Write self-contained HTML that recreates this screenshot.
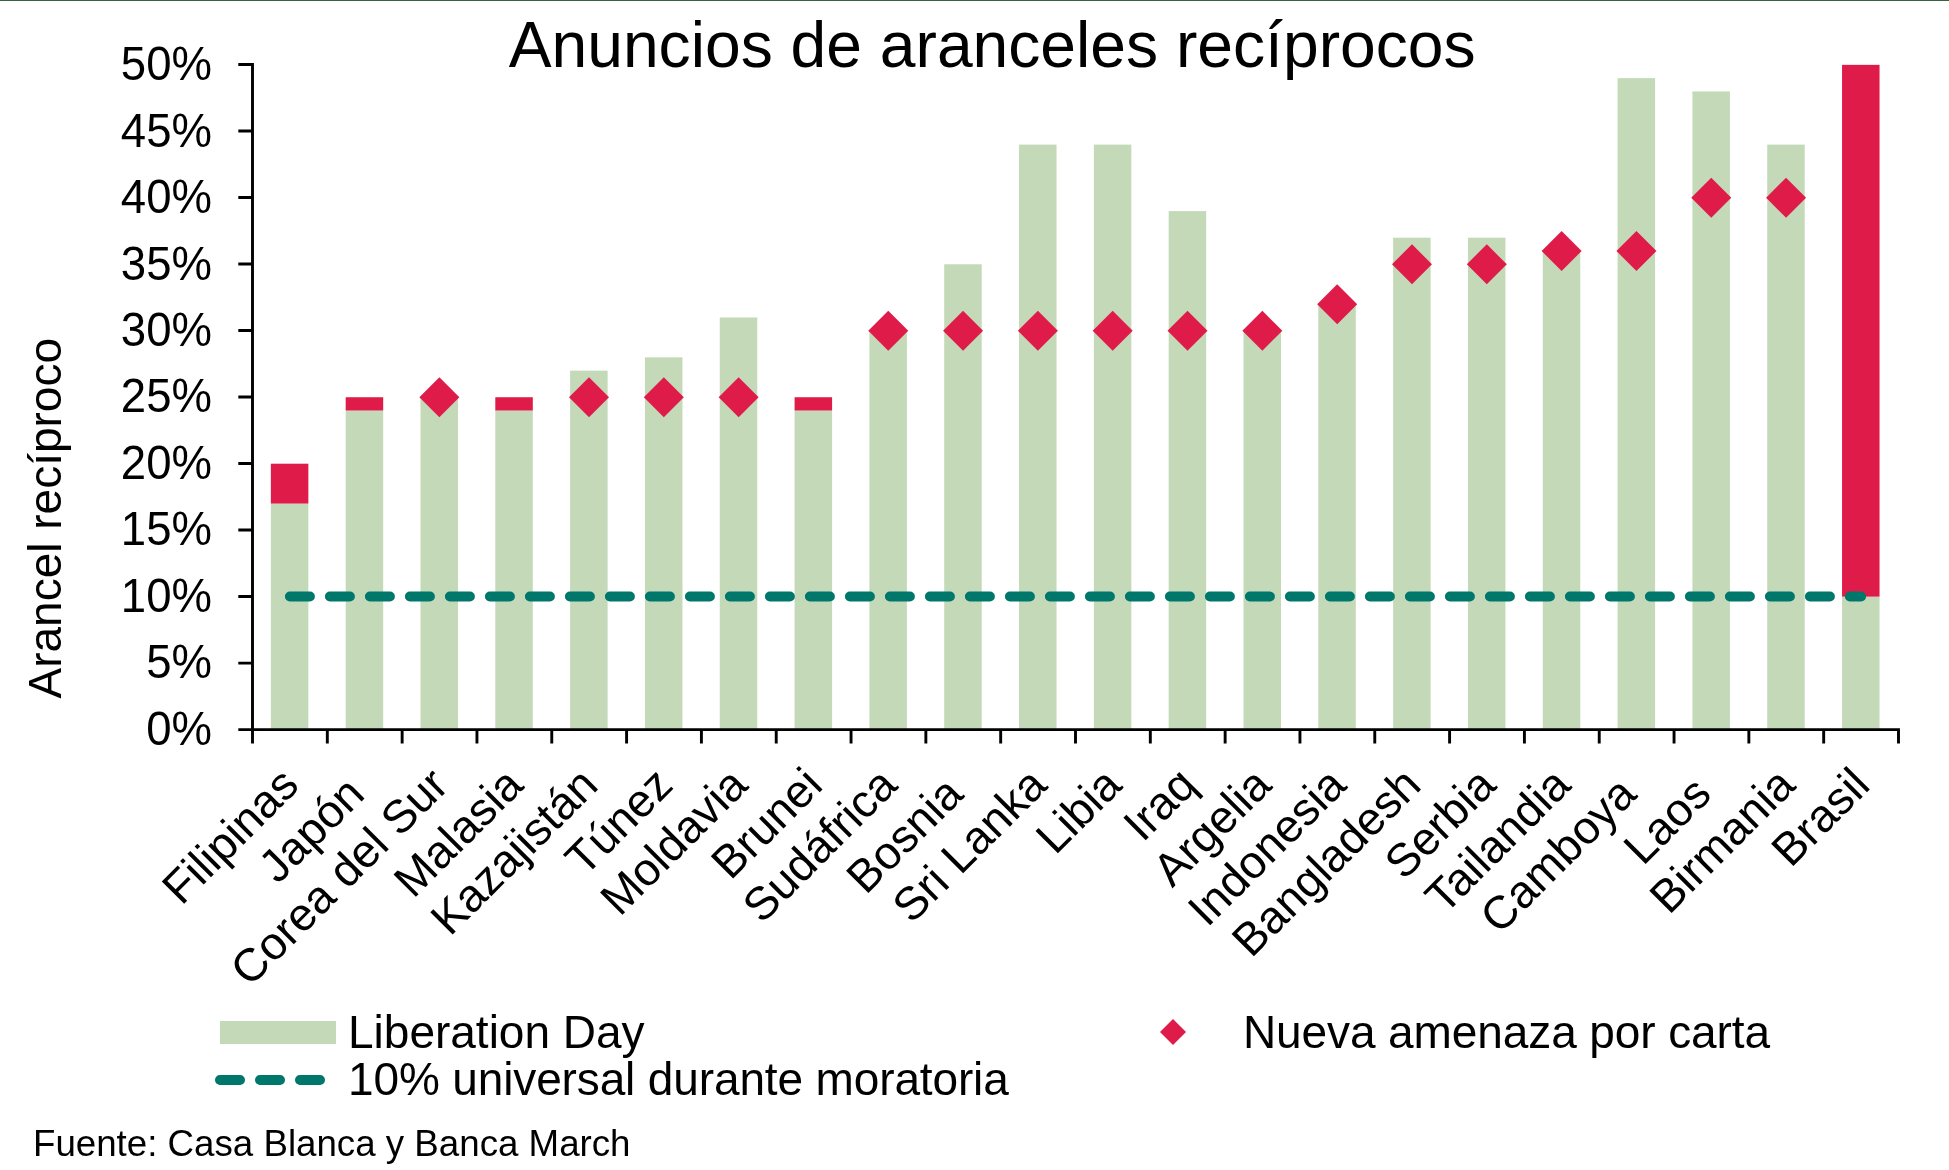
<!DOCTYPE html>
<html><head><meta charset="utf-8"><style>
html,body{margin:0;padding:0;background:#fff;}
svg{display:block;will-change:transform;}
text{font-family:"Liberation Sans",sans-serif;fill:#000;}
</style></head><body>
<svg width="1949" height="1170" viewBox="0 0 1949 1170">
<rect x="0" y="0" width="1949" height="1170" fill="#fff"/>
<rect x="0" y="0" width="1949" height="1" fill="#35643C"/>

<rect x="270.86" y="503.59" width="37.5" height="226.01" fill="#C4D9B8"/>
<rect x="270.86" y="463.70" width="37.5" height="39.88" fill="#DF1B49"/>
<rect x="345.68" y="410.52" width="37.5" height="319.08" fill="#C4D9B8"/>
<rect x="345.68" y="397.23" width="37.5" height="13.30" fill="#DF1B49"/>
<rect x="420.50" y="397.23" width="37.5" height="332.38" fill="#C4D9B8"/>
<rect x="495.31" y="410.52" width="37.5" height="319.08" fill="#C4D9B8"/>
<rect x="495.31" y="397.23" width="37.5" height="13.30" fill="#DF1B49"/>
<rect x="570.13" y="370.64" width="37.5" height="358.96" fill="#C4D9B8"/>
<rect x="644.95" y="357.34" width="37.5" height="372.26" fill="#C4D9B8"/>
<rect x="719.77" y="317.46" width="37.5" height="412.14" fill="#C4D9B8"/>
<rect x="794.59" y="410.52" width="37.5" height="319.08" fill="#C4D9B8"/>
<rect x="794.59" y="397.23" width="37.5" height="13.30" fill="#DF1B49"/>
<rect x="869.40" y="330.75" width="37.5" height="398.85" fill="#C4D9B8"/>
<rect x="944.22" y="264.28" width="37.5" height="465.32" fill="#C4D9B8"/>
<rect x="1019.04" y="144.62" width="37.5" height="584.98" fill="#C4D9B8"/>
<rect x="1093.86" y="144.62" width="37.5" height="584.98" fill="#C4D9B8"/>
<rect x="1168.68" y="211.10" width="37.5" height="518.50" fill="#C4D9B8"/>
<rect x="1243.50" y="330.75" width="37.5" height="398.85" fill="#C4D9B8"/>
<rect x="1318.31" y="304.16" width="37.5" height="425.44" fill="#C4D9B8"/>
<rect x="1393.13" y="237.69" width="37.5" height="491.92" fill="#C4D9B8"/>
<rect x="1467.95" y="237.69" width="37.5" height="491.92" fill="#C4D9B8"/>
<rect x="1542.77" y="250.98" width="37.5" height="478.62" fill="#C4D9B8"/>
<rect x="1617.59" y="78.14" width="37.5" height="651.46" fill="#C4D9B8"/>
<rect x="1692.40" y="91.44" width="37.5" height="638.16" fill="#C4D9B8"/>
<rect x="1767.22" y="144.62" width="37.5" height="584.98" fill="#C4D9B8"/>
<rect x="1842.04" y="596.65" width="37.5" height="132.95" fill="#C4D9B8"/>
<rect x="1842.04" y="64.85" width="37.5" height="531.80" fill="#DF1B49"/>
<path d="M289.91 596.57H1861.09" stroke="#00776B" stroke-width="10" stroke-linecap="round" stroke-dasharray="20 20" fill="none"/>
<path d="M439.35 377.23L459.35 397.23L439.35 417.23L419.35 397.23Z" fill="#DF1B49"/>
<path d="M588.98 377.23L608.98 397.23L588.98 417.23L568.98 397.23Z" fill="#DF1B49"/>
<path d="M663.80 377.23L683.80 397.23L663.80 417.23L643.80 397.23Z" fill="#DF1B49"/>
<path d="M738.62 377.23L758.62 397.23L738.62 417.23L718.62 397.23Z" fill="#DF1B49"/>
<path d="M888.25 310.75L908.25 330.75L888.25 350.75L868.25 330.75Z" fill="#DF1B49"/>
<path d="M963.07 310.75L983.07 330.75L963.07 350.75L943.07 330.75Z" fill="#DF1B49"/>
<path d="M1037.89 310.75L1057.89 330.75L1037.89 350.75L1017.89 330.75Z" fill="#DF1B49"/>
<path d="M1112.71 310.75L1132.71 330.75L1112.71 350.75L1092.71 330.75Z" fill="#DF1B49"/>
<path d="M1187.53 310.75L1207.53 330.75L1187.53 350.75L1167.53 330.75Z" fill="#DF1B49"/>
<path d="M1262.35 310.75L1282.35 330.75L1262.35 350.75L1242.35 330.75Z" fill="#DF1B49"/>
<path d="M1337.16 284.16L1357.16 304.16L1337.16 324.16L1317.16 304.16Z" fill="#DF1B49"/>
<path d="M1411.98 244.28L1431.98 264.28L1411.98 284.28L1391.98 264.28Z" fill="#DF1B49"/>
<path d="M1486.80 244.28L1506.80 264.28L1486.80 284.28L1466.80 264.28Z" fill="#DF1B49"/>
<path d="M1561.62 230.98L1581.62 250.98L1561.62 270.98L1541.62 250.98Z" fill="#DF1B49"/>
<path d="M1636.44 230.98L1656.44 250.98L1636.44 270.98L1616.44 250.98Z" fill="#DF1B49"/>
<path d="M1711.25 177.80L1731.25 197.80L1711.25 217.80L1691.25 197.80Z" fill="#DF1B49"/>
<path d="M1786.07 177.80L1806.07 197.80L1786.07 217.80L1766.07 197.80Z" fill="#DF1B49"/>
<path d="M238.3 64.45H252.5V743.6 M238.3 729.60H252.5 M238.3 663.09H252.5 M238.3 596.57H252.5 M238.3 530.06H252.5 M238.3 463.54H252.5 M238.3 397.03H252.5 M238.3 330.51H252.5 M238.3 264.00H252.5 M238.3 197.48H252.5 M238.3 130.97H252.5 M238.3 729.60H1898.5V743.6 M327.32 729.60V743.6 M402.14 729.60V743.6 M476.95 729.60V743.6 M551.77 729.60V743.6 M626.59 729.60V743.6 M701.41 729.60V743.6 M776.23 729.60V743.6 M851.05 729.60V743.6 M925.86 729.60V743.6 M1000.68 729.60V743.6 M1075.50 729.60V743.6 M1150.32 729.60V743.6 M1225.14 729.60V743.6 M1299.95 729.60V743.6 M1374.77 729.60V743.6 M1449.59 729.60V743.6 M1524.41 729.60V743.6 M1599.23 729.60V743.6 M1674.05 729.60V743.6 M1748.86 729.60V743.6 M1823.68 729.60V743.6" stroke="#000" stroke-width="2.9" fill="none" stroke-linejoin="miter"/>
<text x="0" y="0" font-size="46" text-anchor="end" transform="translate(212.0 744.80) scale(0.99 1.055)">0%</text>
<text x="0" y="0" font-size="46" text-anchor="end" transform="translate(212.0 678.34) scale(0.99 1.055)">5%</text>
<text x="0" y="0" font-size="46" text-anchor="end" transform="translate(212.0 611.87) scale(0.99 1.055)">10%</text>
<text x="0" y="0" font-size="46" text-anchor="end" transform="translate(212.0 545.41) scale(0.99 1.055)">15%</text>
<text x="0" y="0" font-size="46" text-anchor="end" transform="translate(212.0 478.94) scale(0.99 1.055)">20%</text>
<text x="0" y="0" font-size="46" text-anchor="end" transform="translate(212.0 412.48) scale(0.99 1.055)">25%</text>
<text x="0" y="0" font-size="46" text-anchor="end" transform="translate(212.0 346.01) scale(0.99 1.055)">30%</text>
<text x="0" y="0" font-size="46" text-anchor="end" transform="translate(212.0 279.55) scale(0.99 1.055)">35%</text>
<text x="0" y="0" font-size="46" text-anchor="end" transform="translate(212.0 213.08) scale(0.99 1.055)">40%</text>
<text x="0" y="0" font-size="46" text-anchor="end" transform="translate(212.0 146.62) scale(0.99 1.055)">45%</text>
<text x="0" y="0" font-size="46" text-anchor="end" transform="translate(212.0 80.15) scale(0.99 1.055)">50%</text>
<text x="0" y="0" font-size="46" transform="translate(61 698.5) rotate(-90)">Arancel recíproco</text>
<text x="0" y="0" font-size="46" text-anchor="end" transform="translate(300.91 787.30) rotate(-45)">Filipinas</text>
<text x="0" y="0" font-size="46" text-anchor="end" transform="translate(366.69 796.34) rotate(-45)">Japón</text>
<text x="0" y="0" font-size="46" text-anchor="end" transform="translate(450.55 787.30) rotate(-45)">Corea del Sur</text>
<text x="0" y="0" font-size="46" text-anchor="end" transform="translate(525.36 787.30) rotate(-45)">Malasia</text>
<text x="0" y="0" font-size="46" text-anchor="end" transform="translate(600.18 787.30) rotate(-45)">Kazajistán</text>
<text x="0" y="0" font-size="46" text-anchor="end" transform="translate(675.00 787.30) rotate(-45)">Túnez</text>
<text x="0" y="0" font-size="46" text-anchor="end" transform="translate(749.82 787.30) rotate(-45)">Moldavia</text>
<text x="0" y="0" font-size="46" text-anchor="end" transform="translate(824.64 787.30) rotate(-45)">Brunei</text>
<text x="0" y="0" font-size="46" text-anchor="end" transform="translate(899.45 787.30) rotate(-45)">Sudáfrica</text>
<text x="0" y="0" font-size="46" text-anchor="end" transform="translate(965.24 796.34) rotate(-45)">Bosnia</text>
<text x="0" y="0" font-size="46" text-anchor="end" transform="translate(1049.09 787.30) rotate(-45)">Sri Lanka</text>
<text x="0" y="0" font-size="46" text-anchor="end" transform="translate(1123.91 787.30) rotate(-45)">Libia</text>
<text x="0" y="0" font-size="46" text-anchor="end" transform="translate(1198.73 787.30) rotate(-45)">Iraq</text>
<text x="0" y="0" font-size="46" text-anchor="end" transform="translate(1273.55 787.30) rotate(-45)">Argelia</text>
<text x="0" y="0" font-size="46" text-anchor="end" transform="translate(1348.36 787.30) rotate(-45)">Indonesia</text>
<text x="0" y="0" font-size="46" text-anchor="end" transform="translate(1423.18 787.30) rotate(-45)">Bangladesh</text>
<text x="0" y="0" font-size="46" text-anchor="end" transform="translate(1498.00 787.30) rotate(-45)">Serbia</text>
<text x="0" y="0" font-size="46" text-anchor="end" transform="translate(1572.82 787.30) rotate(-45)">Tailandia</text>
<text x="0" y="0" font-size="46" text-anchor="end" transform="translate(1638.60 796.34) rotate(-45)">Camboya</text>
<text x="0" y="0" font-size="46" text-anchor="end" transform="translate(1713.42 796.34) rotate(-45)">Laos</text>
<text x="0" y="0" font-size="46" text-anchor="end" transform="translate(1797.27 787.30) rotate(-45)">Birmania</text>
<text x="0" y="0" font-size="46" text-anchor="end" transform="translate(1872.09 787.30) rotate(-45)">Brasil</text>
<text x="508.7" y="67.0" font-size="64.2">Anuncios de aranceles recíprocos</text>
<rect x="220" y="1021" width="116" height="23" fill="#C4D9B8"/>
<text x="348" y="1048" font-size="46">Liberation Day</text>
<path d="M220 1080H320" stroke="#00776B" stroke-width="10" stroke-linecap="round" stroke-dasharray="20 20" fill="none"/>
<text x="348" y="1095.0" font-size="46" textLength="660.8">10% universal durante moratoria</text>
<path d="M1173 1019L1186 1032L1173 1045L1160 1032Z" fill="#DF1B49"/>
<text x="1243" y="1048" font-size="46" textLength="527">Nueva amenaza por carta</text>
<text x="33" y="1156.2" font-size="36.7">Fuente: Casa Blanca y Banca March</text>
</svg>
</body></html>
